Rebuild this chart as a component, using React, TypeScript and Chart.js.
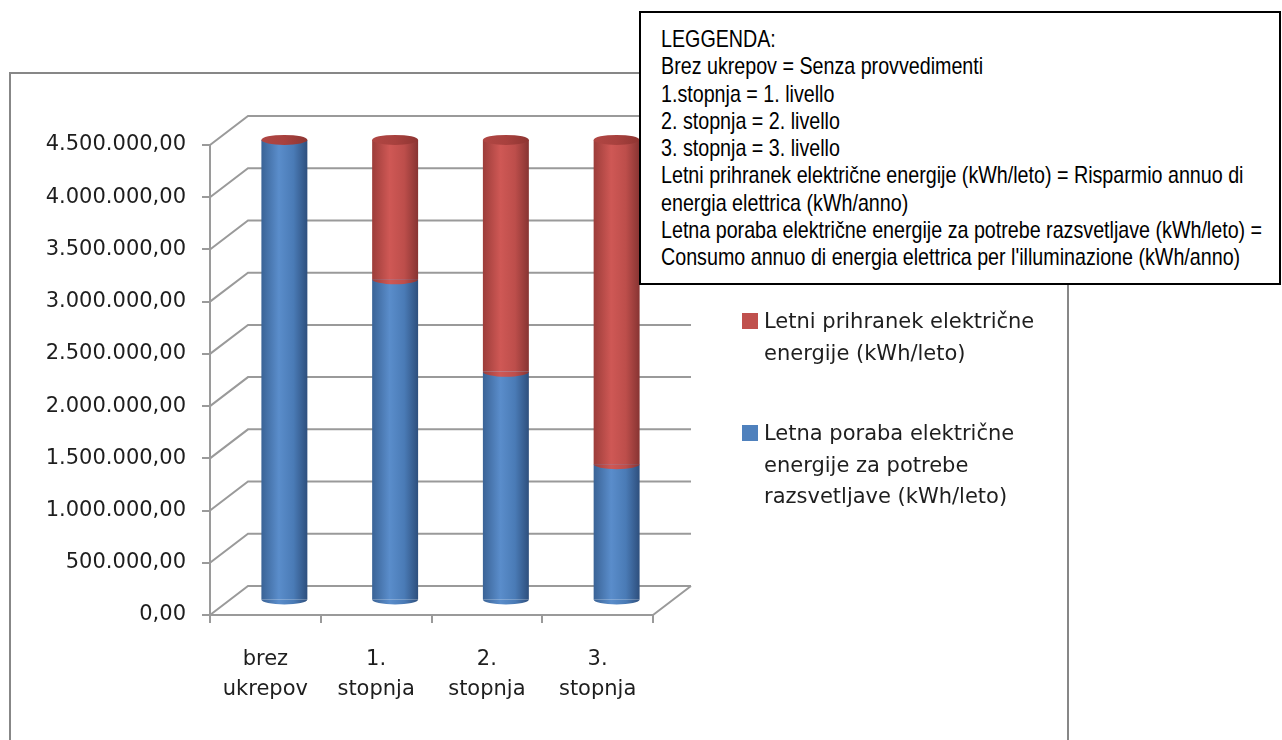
import React, { useEffect, useRef } from 'react';
import { Chart, registerables } from 'chart.js';

Chart.register(...registerables);

// ---------- data ----------
const categories: string[][] = [
  ['brez', 'ukrepov'],
  ['1.', 'stopnja'],
  ['2.', 'stopnja'],
  ['3.', 'stopnja'],
];
const consumption: number[] = [4410000, 3075000, 2190000, 1305000];
const savings: number[] = [0, 1335000, 2220000, 3105000];
const consumptionLabel = 'Letna poraba električne energije za potrebe razsvetljave (kWh/leto)';
const savingsLabel = 'Letni prihranek električne energije (kWh/leto)';
const yMin = 0;
const yMax = 4500000;
const yStep = 500000;

const noteLines: string[] = [
  'LEGGENDA:',
  'Brez ukrepov = Senza provvedimenti',
  '1.stopnja = 1. livello',
  '2. stopnja = 2. livello',
  '3. stopnja = 3. livello',
  'Letni prihranek električne energije (kWh/leto) = Risparmio annuo di',
  'energia elettrica (kWh/anno)',
  'Letna poraba električne energije za potrebe razsvetljave (kWh/leto) =',
  "Consumo annuo di energia elettrica per l'illuminazione (kWh/anno)",
];

// ---------- styling ----------
const BLUE = '#4F81BD';
const RED = '#C0504D';
const BLUE_STOPS: [number, string][] = [[0, '#3a6396'], [0.38, '#5a8dcb'], [0.7, '#4a7bb6'], [1, '#2e4f7d']];
const RED_STOPS: [number, string][] = [[0, '#9c3d3a'], [0.38, '#cf5855'], [0.7, '#bd4e4b'], [1, '#873432']];
const CAP_STOPS: [number, string][] = [[0, '#b04643'], [0.5, '#a8413e'], [1, '#8e3532']];
const GRID = '#9a9a9a';
const TEXT = '#1e1e1e';
const DX = 38;
const DY = -29;
const RY = 5;
const BAR_PCT = 0.415;
const FONT = 'DejaVu Sans';

function fmt(v: number): string {
  const s = Math.round(v).toString().replace(/\B(?=(\d{3})+(?!\d))/g, '.');
  return s + ',00';
}

function makeGrad(ctx: CanvasRenderingContext2D, x0: number, x1: number, stops: [number, string][]) {
  const g = ctx.createLinearGradient(x0, 0, x1, 0);
  stops.forEach(([o, c]) => g.addColorStop(o, c));
  return g;
}

function barFill(stops: [number, string][], base: string) {
  return (c: any) => {
    const chart = c.chart;
    const xs = chart.scales && chart.scales.x;
    if (c.type !== 'data' || !xs || !chart.chartArea) return base;
    const cx = xs.getPixelForValue(c.dataIndex);
    const w = (xs.width / categories.length) * BAR_PCT;
    return makeGrad(chart.ctx, cx - w / 2, cx + w / 2, stops);
  };
}

const cylinder3D = {
  id: 'cylinder3D',
  beforeDatasetsDraw(chart: any) {
    const { ctx, chartArea, scales } = chart;
    const y = scales.y;
    ctx.save();
    ctx.strokeStyle = GRID;
    ctx.lineWidth = 2;
    ctx.lineJoin = 'miter';
    ctx.beginPath();
    y.ticks.forEach((t: any) => {
      const py = y.getPixelForValue(t.value);
      ctx.moveTo(chartArea.left, py);
      ctx.lineTo(chartArea.left + DX, py + DY);
      ctx.lineTo(chartArea.right + DX, py + DY);
    });
    const p0 = y.getPixelForValue(0);
    ctx.moveTo(chartArea.right, p0);
    ctx.lineTo(chartArea.right + DX, p0 + DY);
    ctx.stroke();
    ctx.restore();
    ctx.save();
    ctx.translate(DX / 2, DY / 2);
  },
  afterDatasetsDraw(chart: any) {
    const { ctx } = chart;
    chart.data.datasets.forEach((ds: any, i: number) => {
      const meta = chart.getDatasetMeta(i);
      meta.data.forEach((el: any, j: number) => {
        if (!(ds.data[j] > 0)) return;
        const { x, base, width } = el.getProps(['x', 'base', 'width'], true);
        ctx.beginPath();
        ctx.ellipse(x, base, width / 2, RY, 0, 0, Math.PI);
        ctx.closePath();
        ctx.fillStyle = el.options.backgroundColor;
        ctx.fill();
      });
    });
    const topMeta = chart.getDatasetMeta(chart.data.datasets.length - 1);
    topMeta.data.forEach((el: any) => {
      const { x, y, width } = el.getProps(['x', 'y', 'width'], true);
      ctx.beginPath();
      ctx.ellipse(x, y, width / 2, RY, 0, 0, Math.PI * 2);
      ctx.fillStyle = makeGrad(ctx, x - width / 2, x + width / 2, CAP_STOPS);
      ctx.fill();
    });
    ctx.restore();
  },
};

export default function App() {
  const ref = useRef<HTMLCanvasElement | null>(null);

  useEffect(() => {
    document.body.style.margin = '0';
    const canvas = ref.current;
    if (!canvas) return;
    const chart = new Chart(canvas, {
      type: 'bar',
      data: {
        labels: categories as any,
        datasets: [
          {
            label: consumptionLabel,
            data: consumption,
            backgroundColor: barFill(BLUE_STOPS, BLUE) as any,
            borderWidth: 0,
            barPercentage: BAR_PCT,
            categoryPercentage: 1,
            clip: false as any,
          },
          {
            label: savingsLabel,
            data: savings,
            backgroundColor: barFill(RED_STOPS, RED) as any,
            borderWidth: 0,
            barPercentage: BAR_PCT,
            categoryPercentage: 1,
            clip: false as any,
          },
        ],
      },
      options: {
        responsive: false,
        animation: false,
        devicePixelRatio: 1,
        events: [],
        layout: { padding: { left: 0, top: 145, right: 629, bottom: 25 } },
        plugins: {
          legend: { display: false },
          tooltip: { enabled: false },
        },
        scales: {
          x: {
            stacked: true,
            offset: true,
            grid: {
              offset: true,
              drawOnChartArea: false,
              drawTicks: true,
              tickLength: 8,
              color: GRID,
              lineWidth: 2,
            },
            border: { display: true, color: GRID, width: 2 },
            ticks: {
              color: TEXT,
              padding: 22,
              maxRotation: 0,
              autoSkip: false,
              font: { family: FONT, size: 21, lineHeight: 30 / 21 },
            },
            afterFit: (s: any) => {
              s.height = 100;
            },
          },
          y: {
            stacked: true,
            min: yMin,
            max: yMax,
            grid: {
              drawOnChartArea: false,
              drawTicks: true,
              tickLength: 8,
              color: GRID,
              lineWidth: 2,
            },
            border: { display: true, color: GRID, width: 2 },
            ticks: {
              stepSize: yStep,
              color: TEXT,
              padding: 16,
              font: { family: FONT, size: 21 },
              callback: (v: any) => fmt(Number(v)),
            },
            afterFit: (s: any) => {
              s.width = 210;
            },
          },
        },
      },
      plugins: [cylinder3D],
    });
    return () => chart.destroy();
  }, []);

  const legendItems = [
    { label: savingsLabel, color: RED, top: 306 },
    { label: consumptionLabel, color: BLUE, top: 418 },
  ];

  return (
    <div
      style={{
        position: 'absolute',
        left: 0,
        top: 0,
        width: 1282,
        height: 740,
        overflow: 'hidden',
        background: '#fff',
      }}
    >
      <div
        style={{
          position: 'absolute',
          left: 9,
          top: 72,
          width: 1060,
          height: 800,
          border: '2px solid #878787',
          boxSizing: 'border-box',
        }}
      />
      <canvas
        ref={ref}
        width={1282}
        height={740}
        style={{ position: 'absolute', left: 0, top: 0, width: 1282, height: 740 }}
      />
      {legendItems.map((it, i) => (
        <div key={i}>
          <div
            style={{
              position: 'absolute',
              left: 742,
              top: it.top + 7,
              width: 16,
              height: 16,
              background: it.color,
            }}
          />
          <div
            style={{
              position: 'absolute',
              left: 764,
              top: it.top,
              width: 300,
              fontFamily: FONT,
              fontSize: 21,
              lineHeight: '31.5px',
              color: TEXT,
            }}
          >
            {it.label}
          </div>
        </div>
      ))}
      <div
        style={{
          position: 'absolute',
          left: 639,
          top: 11,
          width: 642,
          height: 274,
          border: '2px solid #000',
          boxSizing: 'border-box',
          background: '#fff',
        }}
      >
        <div
          style={{
            position: 'absolute',
            left: 20,
            top: 12,
            transform: 'scaleX(0.82)',
            transformOrigin: '0 0',
            fontFamily: '"Liberation Sans", Arial, sans-serif',
            fontSize: 24,
            lineHeight: '27.3px',
            color: '#000',
            whiteSpace: 'nowrap',
          }}
        >
          {noteLines.map((l, i) => (
            <div key={i}>{l}</div>
          ))}
        </div>
      </div>
    </div>
  );
}
